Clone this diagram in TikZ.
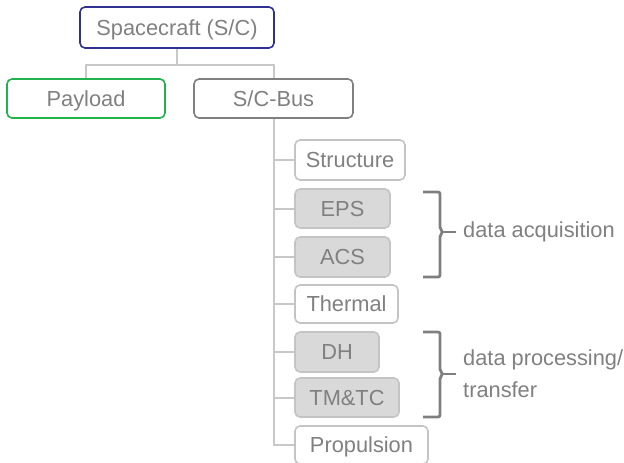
\documentclass[tikz,border=0pt]{standalone}
\usepackage{fontspec}
\setmainfont{Liberation Sans}
\definecolor{txtgray}{HTML}{808080}
\definecolor{linegray}{HTML}{C8C8C8}
\definecolor{boxgray}{HTML}{C4C4C4}
\definecolor{fillgray}{HTML}{D9D9D9}
\definecolor{bracegray}{HTML}{7F7F7F}
\definecolor{scblue}{HTML}{2E3192}
\definecolor{plgreen}{HTML}{22B24C}
\tikzset{
  box/.style={draw, rounded corners=5pt, line width=1.6pt, inner sep=0pt,
    text=txtgray, font=\fontsize{21.8}{26}\selectfont, text height=15.6pt, text depth=0pt},
  subbox/.style={box, draw=boxgray, fill=white, minimum height=38pt},
  grayfill/.style={subbox, fill=fillgray},
  conn/.style={draw=linegray, line width=2pt},
  bracket/.style={draw=bracegray, line width=2.8pt, rounded corners=2pt},
  lbl/.style={text=txtgray, font=\fontsize{21.8}{32}\selectfont, anchor=west, inner sep=0pt, align=left}
}
\begin{document}
\begin{tikzpicture}[x=1pt,y=-1pt]
\useasboundingbox (0,0) rectangle (624,463);
\node[box, draw=scblue, minimum width=194pt, minimum height=41pt] (sc) at (177,27.5) {Spacecraft (S/C)};
\node[box, draw=plgreen, minimum width=158pt, minimum height=39pt] (pl) at (86,98.5) {Payload};
\node[box, draw=txtgray, minimum width=159pt, minimum height=39pt] (bus) at (273.5,98.5) {S/C-Bus};
\node[subbox, minimum width=110pt, minimum height=40pt] (st) at (350,160) {Structure};
\node[grayfill, minimum width=95pt, minimum height=39pt] (eps) at (342.5,208.5) {EPS};
\node[grayfill, minimum width=95pt, minimum height=40pt] (acs) at (342.5,257) {ACS};
\node[subbox, minimum width=103pt] (th) at (346.5,304) {Thermal};
\node[grayfill, minimum width=84pt, minimum height=40pt] (dh) at (337,352) {DH};
\node[grayfill, minimum width=104pt, minimum height=39pt] (tm) at (347,397.5) {TM\&TC};
\node[subbox, minimum width=133pt] (pr) at (361.5,445) {Propulsion};
\draw[conn] (sc.south) -- ++(0,16) coordinate (jn);
\draw[conn] (jn) -| (pl.north);
\draw[conn] (jn) -| (bus.north);
\draw[conn] (bus.south) |- (pr.west);
\foreach \n in {st,eps,acs,th,dh,tm}{
  \draw[conn] (bus.south |- \n.west) -- (\n.west);
}
\draw[bracket] (423,192) -- (440,192) -- (440,229) -- (443,232) -- (440,235) -- (440,277) -- (423,277);
\draw[bracket] (443,232) -- (456,232);
\node[lbl] (da) at (463,232) {data acquisition};
\draw[bracket] (423,332) -- (440,332) -- (440,371) -- (443,374) -- (440,377) -- (440,417) -- (423,417);
\draw[bracket] (443,374) -- (456,374);
\node[lbl] (dp) at (463,374) {data processing/\\transfer};
\end{tikzpicture}
\end{document}
